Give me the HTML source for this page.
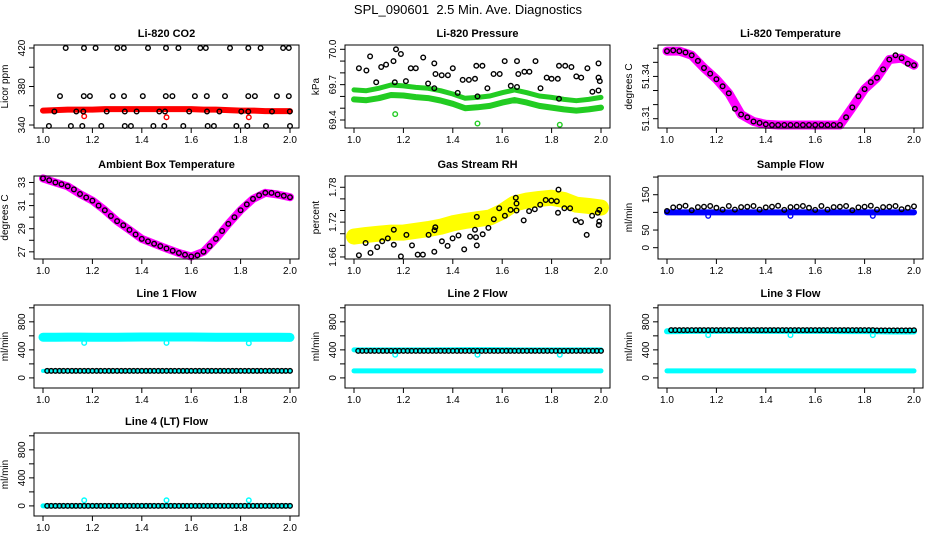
<!DOCTYPE html>
<html><head><meta charset="utf-8"><style>
html,body{margin:0;padding:0;background:#fff;}
svg{display:block;font-family:"Liberation Sans",Arial,sans-serif;}
</style></head><body>
<svg id="chart" width="936" height="540" viewBox="0 0 936 540">
<text x="468" y="14" text-anchor="middle" font-size="13" style="white-space:pre">SPL_090601&#160; 2.5 Min. Ave. Diagnostics</text>
</svg>
<script>
// ---- shared x grids ----
const T21 = [1.00,1.05,1.10,1.15,1.20,1.25,1.30,1.35,1.40,1.45,1.50,1.55,1.60,1.65,1.70,1.75,1.80,1.85,1.90,1.95,2.00];
const T41 = [1.000,1.025,1.050,1.075,1.100,1.125,1.150,1.175,1.200,1.225,1.250,1.275,1.300,1.325,1.350,1.375,1.400,1.425,1.450,1.475,1.500,1.525,1.550,1.575,1.600,1.625,1.650,1.675,1.700,1.725,1.750,1.775,1.800,1.825,1.850,1.875,1.900,1.925,1.950,1.975,2.000];
const T60 = [1.017,1.033,1.05,1.067,1.083,1.1,1.117,1.133,1.15,1.167,1.183,1.2,1.217,1.233,1.25,1.267,1.283,1.3,1.317,1.333,1.35,1.367,1.383,1.4,1.417,1.433,1.45,1.467,1.483,1.5,1.517,1.533,1.55,1.567,1.583,1.6,1.617,1.633,1.65,1.667,1.683,1.7,1.717,1.733,1.75,1.767,1.783,1.8,1.817,1.833,1.85,1.867,1.883,1.9,1.917,1.933,1.95,1.967,1.983,2.0];
const outX = [1.167,1.5,1.833];
const xTicks = [1.0,1.2,1.4,1.6,1.8,2.0];
const xTickLabels = ["1.0","1.2","1.4","1.6","1.8","2.0"];

// ---- P1 CO2 ----
const co2Red = [355,355.5,356,356,356,356.5,356.5,356.5,356.5,356.5,356.5,356.5,356.5,356,356,355.5,355,355,354.5,354.5,354.5];
const co2RedOut = [349,348,348];
const co2BlackX = [1.092,1.166,1.213,1.301,1.327,1.425,1.498,1.548,1.637,1.659,1.757,1.831,1.881,1.972,1.995,
 1.069,1.165,1.190,1.282,1.328,1.404,1.497,1.524,1.615,1.663,1.737,1.831,1.858,1.947,1.995,
 1.046,1.135,1.163,1.258,1.331,1.379,1.471,1.494,1.592,1.664,1.714,1.803,1.831,1.927,1.999,
 1.024,1.113,1.159,1.236,1.331,1.356,1.447,1.491,1.568,1.667,1.692,1.783,1.827,1.903,2.0];
const co2BlackY = [420,420,420,420,420,420,420,420,420,420,420,420,420,420,420,
 370,370,370,370,370,370,370,370,370,370,370,370,370,370,370,
 354,354,354,354,354,354,354,354,354,354,354,354,354,354,354,
 339,339,339,339,339,339,339,339,339,339,339,339,339,339,339];

// ---- P2 Pressure ----
const presUpper = [69.655,69.649,69.669,69.697,69.689,69.677,69.669,69.649,69.621,69.584,69.592,69.604,69.632,69.655,69.632,69.604,69.592,69.575,69.564,69.575,69.592];
const presLower = [69.575,69.568,69.585,69.612,69.608,69.594,69.586,69.565,69.537,69.500,69.508,69.520,69.548,69.570,69.548,69.520,69.505,69.490,69.480,69.490,69.505];
const presOut = [69.45,69.37,69.36];
const presBlackX = [1.02,1.05,1.065,1.09,1.11,1.13,1.16,1.165,1.17,1.19,1.21,1.23,1.25,1.28,1.30,1.325,1.325,1.33,1.355,1.38,1.40,1.42,1.44,1.465,1.49,1.495,1.50,1.52,1.54,1.565,1.59,1.61,1.635,1.66,1.66,1.665,1.69,1.71,1.735,1.755,1.78,1.80,1.825,1.83,1.83,1.855,1.88,1.90,1.92,1.945,1.965,1.99,1.99,1.995,1.99];
const presBlackY = [69.84,69.82,69.94,69.72,69.85,69.87,69.90,69.72,70.00,69.96,69.73,69.84,69.84,69.93,69.71,69.88,69.67,69.79,69.78,69.78,69.84,69.63,69.74,69.74,69.75,69.86,69.60,69.86,69.67,69.79,69.79,69.90,69.69,69.90,69.68,69.79,69.81,69.81,69.90,69.67,69.76,69.75,69.75,69.86,69.58,69.86,69.85,69.77,69.76,69.84,69.64,69.88,69.76,69.73,69.65];

// ---- P3 Li-820 temperature ----
const liTempBand = [51.358,51.358,51.355,51.346,51.338,51.328,51.313,51.308,51.306,51.3055,51.3055,51.3055,51.3055,51.3055,51.3055,51.318,51.331,51.339,51.352,51.353,51.348];
const liTempBlack = [51.358,51.3585,51.358,51.357,51.355,51.351,51.346,51.342,51.338,51.333,51.328,51.317,51.313,51.311,51.308,51.307,51.306,51.3055,51.3055,51.3055,51.3055,51.3055,51.3055,51.3055,51.3055,51.3055,51.3055,51.3055,51.3055,51.311,51.318,51.326,51.331,51.336,51.339,51.345,51.352,51.355,51.353,51.349,51.348];

// ---- P4 Ambient ----
const ambBand = [33.35,33.0,32.67,32.0,31.43,30.6,29.66,28.9,28.12,27.7,27.29,26.9,26.6,27.0,28.12,29.42,30.6,31.58,32.11,31.96,31.73];
const ambBlack = [33.35,33.2,33.0,32.85,32.67,32.4,32.0,31.7,31.43,31.0,30.6,30.1,29.66,29.3,28.9,28.5,28.12,27.9,27.7,27.5,27.29,27.1,26.9,26.75,26.6,26.7,27.0,27.5,28.12,28.8,29.42,30.0,30.6,31.1,31.58,31.9,32.11,32.1,31.96,31.85,31.73];

// ---- P5 RH ----
const rhBand = [1.695,1.698,1.700,1.702,1.702,1.705,1.708,1.712,1.718,1.722,1.725,1.728,1.738,1.752,1.757,1.760,1.762,1.758,1.750,1.748,1.745];
const rhBlackX = [1.02,1.047,1.067,1.094,1.114,1.137,1.161,1.161,1.19,1.212,1.235,1.258,1.279,1.302,1.325,1.326,1.329,1.356,1.379,1.399,1.423,1.446,1.47,1.49,1.494,1.497,1.497,1.521,1.544,1.566,1.588,1.611,1.634,1.655,1.658,1.658,1.687,1.709,1.732,1.754,1.776,1.799,1.821,1.826,1.828,1.852,1.875,1.897,1.919,1.942,1.964,1.987,1.993,1.993,1.991];
const rhBlackY = [1.663,1.684,1.667,1.677,1.687,1.692,1.707,1.681,1.661,1.698,1.680,1.664,1.664,1.698,1.669,1.706,1.711,1.687,1.679,1.692,1.697,1.673,1.695,1.707,1.694,1.729,1.680,1.699,1.710,1.725,1.744,1.731,1.741,1.762,1.752,1.740,1.723,1.739,1.742,1.750,1.758,1.757,1.756,1.736,1.776,1.744,1.744,1.723,1.720,1.698,1.731,1.736,1.741,1.721,1.715];

// ---- P6 Sample flow ----
const sfBand = [100,100,100,100,100,100,100,100,100,100,100,100,100,100,100,100,100,100,100,100,100];
const sfOut = [90,90,90];
const sfBlack = [104,114,116,119,106,115,116,118,113,108,118,108,115,116,118,108,114,116,119,107,115,116,118,113,107,118,108,115,116,118,106,114,116,119,108,115,116,118,109,113,117];

// ---- flow lines ----
const l1Band = [580,580,582,582,580,580,580,582,584,584,584,584,584,582,580,580,580,580,580,580,578];
const l1Low = [100,100,100,100,100,100,100,100,100,100,100,100,100,100,100,100,100,100,100,100,100];
const l1Out = [500,500,495];
const l1Black = [100,100,100,100,100,100,100,100,100,100,100,100,100,100,100,100,100,100,100,100,100,100,100,100,100,100,100,100,100,100,100,100,100,100,100,100,100,100,100,100,100,100,100,100,100,100,100,100,100,100,100,100,100,100,100,100,100,100,100,100];
const l2Band = [400,400,400,400,400,400,400,402,402,404,404,404,402,400,400,400,400,400,400,400,400];
const l2Low = [100,100,100,100,100,100,100,100,100,100,100,100,100,100,100,100,100,100,100,100,100];
const l2Out = [330,330,330];
const l2Black = [385,385,385,385,385,385,385,385,385,385,385,385,385,385,385,385,385,385,385,385,385,385,385,385,385,385,385,385,385,385,385,385,385,385,385,385,385,385,385,385,385,385,385,385,385,385,385,385,385,385,385,385,385,385,385,385,385,385,385,385];
const l3Band = [665,668,670,670,670,672,672,672,670,670,670,670,670,670,668,668,668,665,662,662,662];
const l3Low = [100,100,100,100,100,100,100,100,100,100,100,100,100,100,100,100,100,100,100,100,100];
const l3Out = [610,610,610];
const l3Black = [682,682,682,682,682,682,682,682,682,682,682,682,682,682,682,682,682,682,682,682,682,682,682,682,682,682,682,682,682,682,682,682,682,682,682,682,682,682,682,682,682,682,682,682,682,682,682,682,682,682,678,678,678,678,678,678,678,678,678,680];
const l4Band = [0,0,0,0,0,0,0,0,0,0,0,0,0,0,0,0,0,0,0,0,0];
const l4Out = [80,80,80];
const l4Black = [0,0,0,0,0,0,0,0,0,0,0,0,0,0,0,0,0,0,0,0,0,0,0,0,0,0,0,0,0,0,0,0,0,0,0,0,0,0,0,0,0,0,0,0,0,0,0,0,0,0,0,0,0,0,0,0,0,0,0,0];

const NS = "http://www.w3.org/2000/svg";
const svg = document.getElementById("chart");
function mk(tag, attrs, parent){ const e=document.createElementNS(NS,tag); for(const k in attrs) e.setAttribute(k,attrs[k]); (parent||svg).appendChild(e); return e; }

const W=265, H=83;
const cols=[34,345,658], rows=[45,176,305,433];

function panel(cfg){
  const L=cols[cfg.c], T=rows[cfg.r];
  const g=mk("g",{});
  
  
  const sx = x => L + 9 + (x-1)*247;
  const sy = y => T + H - (y-cfg.ymin)/(cfg.ymax-cfg.ymin)*H;
  const t=mk("text",{x:L+W/2,y:T-8,"text-anchor":"middle","font-size":"11","font-weight":"bold"},g);
  t.textContent=cfg.title;
  
  
  const marks=mk("g",{},g);
  
  
  (cfg.bands||[]).forEach(b=>{
    let d="";
    b.x.forEach((xv,i)=>{ d+=(i?"L":"M")+sx(xv).toFixed(1)+","+sy(b.y[i]).toFixed(1); });
    const p=mk("path",{d:d,fill:"none",stroke:b.color,"stroke-width":b.w,"stroke-linejoin":"round","stroke-linecap":"round"},marks);
    
    
  });
  (cfg.pts||[]).forEach(s=>{
    s.x.forEach((xv,i)=>{
      const c=mk("circle",{cx:sx(xv).toFixed(1),cy:sy(s.y[i]).toFixed(1),r:2.3,fill:"none",stroke:s.color,"stroke-width":1.4},marks);
      
      
    });
  });
  const bx=mk("rect",{x:L,y:T,width:W,height:H,fill:"none",stroke:"#000","stroke-width":1},g);
  
  
  xTicks.forEach((xv,i)=>{
    mk("line",{x1:sx(xv),x2:sx(xv),y1:T+H,y2:T+H+5,stroke:"#000"},g);
    const lb=mk("text",{x:sx(xv),y:T+H+15,"text-anchor":"middle","font-size":"10"},g);
    lb.textContent=xTickLabels[i];
    
    
  });
  cfg.yt.forEach(v=>{ mk("line",{x1:L-5,x2:L,y1:sy(v),y2:sy(v),stroke:"#000"},g); });
  cfg.yl.forEach((v,i)=>{
    const yy=sy(v), xx=L-9;
    const lb=mk("text",{x:xx,y:yy,"text-anchor":"middle","font-size":"10",transform:`rotate(-90 ${xx} ${yy})`},g);
    lb.textContent=cfg.ylt[i];
    
    
  });
  const yx=L-26, yy=T+H/2;
  const yt=mk("text",{x:yx,y:yy,"text-anchor":"middle","font-size":"10",transform:`rotate(-90 ${yx} ${yy})`},g);
  yt.textContent=cfg.ylab;
  
  
}

const flowT=[0,200,400,600,800,1000], flowL=[0,400,800], flowLT=["0","400","800"];

panel({name:"panel-co2",c:0,r:0,title:"Li-820 CO2",ylab:"Licor ppm",ymin:336.9,ymax:423.1,
  yt:[340,360,380,400,420],yl:[340,380,420],ylt:["340","380","420"],
  bands:[{x:T21,y:co2Red,color:"#f00",w:6}],
  pts:[{x:outX,y:co2RedOut,color:"#f00"},{x:co2BlackX,y:co2BlackY,color:"#000"}]});
panel({name:"panel-pressure",c:1,r:0,title:"Li-820 Pressure",ylab:"kPa",ymin:69.332,ymax:70.0365,
  yt:[69.4,69.5,69.6,69.7,69.8,69.9,70.0],yl:[69.4,69.7,70.0],ylt:["69.4","69.7","70.0"],
  bands:[{x:T21,y:presUpper,color:"#22cc22",w:5},{x:T21,y:presLower,color:"#22cc22",w:6}],
  pts:[{x:outX,y:presOut,color:"#22cc22"},{x:presBlackX,y:presBlackY,color:"#000"}]});
panel({name:"panel-li820-temp",c:2,r:0,title:"Li-820 Temperature",ylab:"degrees C",ymin:51.3034,ymax:51.3623,
  yt:[51.31,51.32,51.33,51.34,51.35,51.36],yl:[51.31,51.34],ylt:["51.31","51.34"],
  bands:[{x:T21,y:liTempBand,color:"#ff00ff",w:9}],
  pts:[{x:T41,y:liTempBlack,color:"#000"}]});
panel({name:"panel-ambient-temp",c:0,r:1,title:"Ambient Box Temperature",ylab:"degrees C",ymin:26.38,ymax:33.56,
  yt:[27,28,29,30,31,32,33],yl:[27,29,31,33],ylt:["27","29","31","33"],
  bands:[{x:T21,y:ambBand,color:"#ff00ff",w:8}],
  pts:[{x:T41,y:ambBlack,color:"#000"}]});
panel({name:"panel-rh",c:1,r:1,title:"Gas Stream RH",ylab:"percent",ymin:1.6565,ymax:1.7994,
  yt:[1.66,1.68,1.70,1.72,1.74,1.76,1.78],yl:[1.66,1.72,1.78],ylt:["1.66","1.72","1.78"],
  bands:[{x:T21,y:rhBand,color:"#ffff00",w:16}],
  pts:[{x:rhBlackX,y:rhBlackY,color:"#000"}]});
panel({name:"panel-sample-flow",c:2,r:1,title:"Sample Flow",ylab:"ml/min",ymin:-32,ymax:203,
  yt:[0,50,100,150,200],yl:[0,50,150],ylt:["0","50","150"],
  bands:[{x:T21,y:sfBand,color:"#0000ff",w:6}],
  pts:[{x:outX,y:sfOut,color:"#0000ff"},{x:T41,y:sfBlack,color:"#000"}]});
panel({name:"panel-line1-flow",c:0,r:2,title:"Line 1 Flow",ylab:"ml/min",ymin:-144,ymax:1040,
  yt:flowT,yl:flowL,ylt:flowLT,
  bands:[{x:T21,y:l1Band,color:"#00ffff",w:9},{x:T21,y:l1Low,color:"#00ffff",w:4}],
  pts:[{x:outX,y:l1Out,color:"#00ffff"},{x:T60,y:l1Black,color:"#000"}]});
panel({name:"panel-line2-flow",c:1,r:2,title:"Line 2 Flow",ylab:"ml/min",ymin:-144,ymax:1040,
  yt:flowT,yl:flowL,ylt:flowLT,
  bands:[{x:T21,y:l2Band,color:"#00ffff",w:5},{x:T21,y:l2Low,color:"#00ffff",w:5}],
  pts:[{x:outX,y:l2Out,color:"#00ffff"},{x:T60,y:l2Black,color:"#000"}]});
panel({name:"panel-line3-flow",c:2,r:2,title:"Line 3 Flow",ylab:"ml/min",ymin:-144,ymax:1040,
  yt:flowT,yl:flowL,ylt:flowLT,
  bands:[{x:T21,y:l3Band,color:"#00ffff",w:6},{x:T21,y:l3Low,color:"#00ffff",w:5}],
  pts:[{x:outX,y:l3Out,color:"#00ffff"},{x:T60,y:l3Black,color:"#000"}]});
panel({name:"panel-line4-flow",c:0,r:3,title:"Line 4 (LT) Flow",ylab:"ml/min",ymin:-144,ymax:1040,
  yt:flowT,yl:flowL,ylt:flowLT,
  bands:[{x:T21,y:l4Band,color:"#00ffff",w:5}],
  pts:[{x:outX,y:l4Out,color:"#00ffff"},{x:T60,y:l4Black,color:"#000"}]});
</script>
</body></html>
